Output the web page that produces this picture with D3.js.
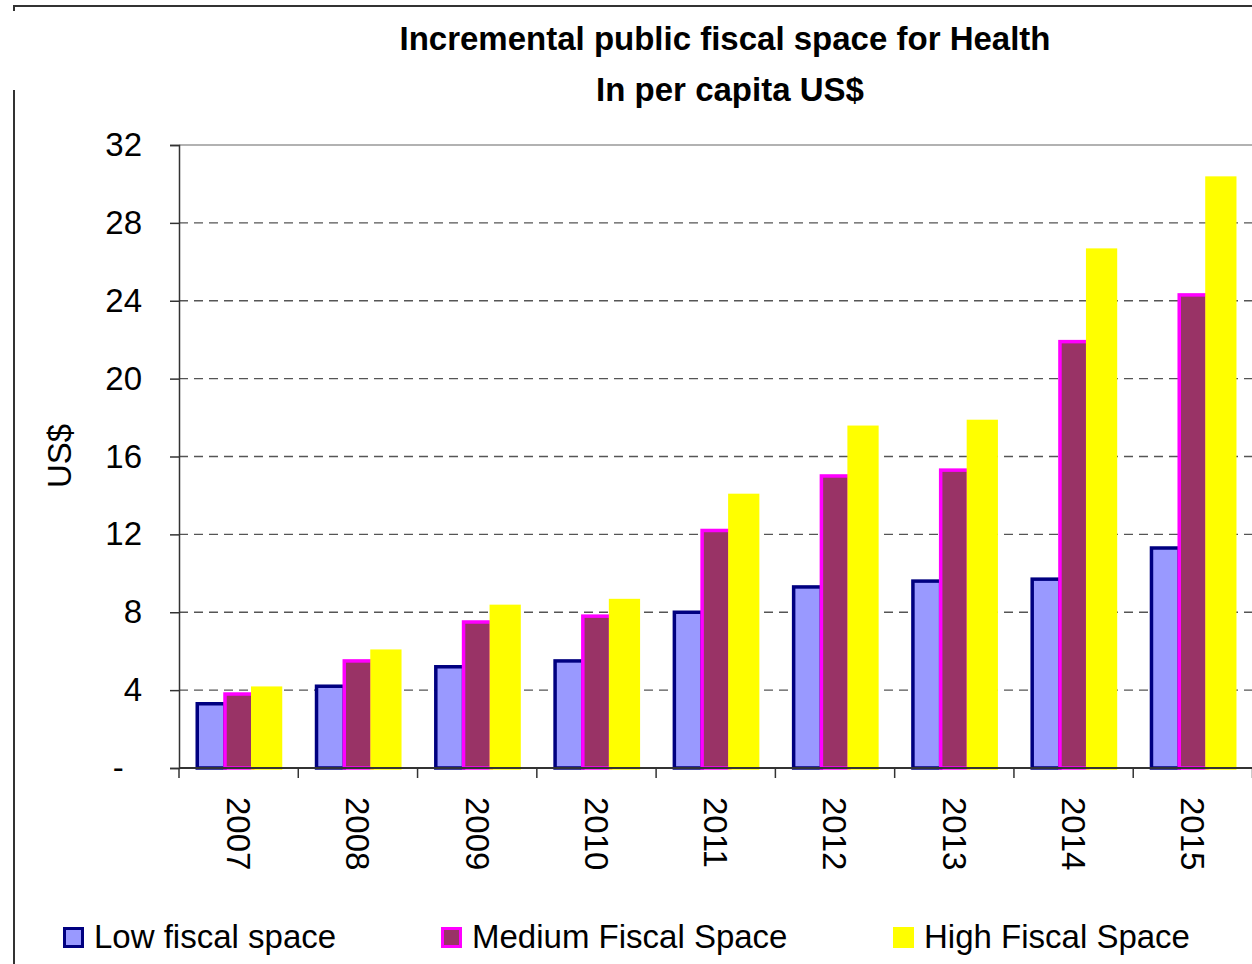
<!DOCTYPE html>
<html>
<head>
<meta charset="utf-8">
<script src="https://cdn.jsdelivr.net/npm/d3@7"></script>
<style>
  html, body { margin: 0; padding: 0; background: #fff; }
  svg { display: block; font-family: "Liberation Sans", Arial, sans-serif; }
</style>
</head>
<body>
<svg id="chart" width="1252" height="964"></svg>
<script>
// ---- data ----
const years = ["2007","2008","2009","2010","2011","2012","2013","2014","2015"];
const seriesNames = ["Low fiscal space","Medium Fiscal Space","High Fiscal Space"];
const lowValues    = [3.3, 4.2, 5.2, 5.5, 8.0, 9.3, 9.6, 9.7, 11.3];
const mediumValues = [3.8, 5.5, 7.5, 7.8, 12.2, 15.0, 15.3, 21.9, 24.3];
const highValues   = [4.1, 6.0, 8.3, 8.6, 14.0, 17.5, 17.8, 26.6, 30.3];
const yTickValues  = [0, 4, 8, 12, 16, 20, 24, 28, 32];
const yTickLabels  = ["-\u00a0\u00a0", "4", "8", "12", "16", "20", "24", "28", "32"];
const titleLines   = ["Incremental public fiscal space for Health", "In per capita US$"];
const yAxisTitle   = "US$";

const seriesValues = [lowValues, mediumValues, highValues];
const fills   = ["#9999FF", "#993366", "#FFFF00"];
const strokes = ["#000080", "#FF00FF", "#FFFF00"];

const svg = d3.select("#chart");

// frame
svg.append("path")
  .attr("d", "M14,11 V6 H1252")
  .attr("fill", "none").attr("stroke", "#333").attr("stroke-width", 2);
svg.append("line")
  .attr("x1", 14).attr("x2", 14).attr("y1", 90).attr("y2", 964)
  .attr("stroke", "#333").attr("stroke-width", 2);

// scales
const plotLeft = 179, plotRight = 1252.5, plotTop = 145, plotBottom = 768;
const x = d3.scaleBand().domain(years).range([plotLeft, plotRight]).padding(0);
const xs = d3.scaleBand().domain(seriesNames)
  .range([x.bandwidth() * 0.153, x.bandwidth() * 0.851]).padding(0);
const y = d3.scaleLinear().domain([0, 32]).range([plotBottom, plotTop]);

// gridlines
svg.append("g").selectAll("line")
  .data(yTickValues.filter(v => v > 0))
  .join("line")
  .attr("x1", plotLeft).attr("x2", plotRight)
  .attr("y1", d => y(d)).attr("y2", d => y(d))
  .attr("stroke", d => d === 32 ? "#999" : "#555")
  .attr("stroke-width", 1.3)
  .attr("stroke-dasharray", d => d === 32 ? null : "9,6");

// bars
seriesNames.forEach((name, si) => {
  svg.append("g").selectAll("rect")
    .data(years.map((yr, i) => ({ yr, v: seriesValues[si][i] })))
    .join("rect")
    .attr("x", d => x(d.yr) + xs(name))
    .attr("width", xs.bandwidth())
    .attr("y", d => y(d.v))
    .attr("height", d => y(0) - y(d.v))
    .attr("fill", fills[si])
    .attr("stroke", strokes[si])
    .attr("stroke-width", 3.5);
});

// y axis
const yAxis = d3.axisLeft(y)
  .tickValues(yTickValues)
  .tickSize(9)
  .tickPadding(28)
  .tickFormat((d, i) => yTickLabels[i]);
const gy = svg.append("g").attr("transform", `translate(${plotLeft},0)`).call(yAxis);
gy.select(".domain").attr("stroke", "#333").attr("stroke-width", 1.5);
gy.selectAll(".tick line").attr("stroke", "#333").attr("stroke-width", 1.5);
gy.selectAll(".tick text").attr("font-size", 33).attr("fill", "#000")
  .attr("font-family", "'Liberation Sans', Arial, sans-serif");

// x axis
const xAxis = d3.axisBottom(x).tickSize(0).tickFormat(d => d);
const gx = svg.append("g").attr("transform", `translate(0,${plotBottom})`).call(xAxis);
gx.select(".domain").attr("stroke", "#333").attr("stroke-width", 2)
  .attr("d", `M${plotLeft},0H${plotRight}`);
gx.selectAll(".tick text")
  .attr("font-size", 33).attr("fill", "#000")
  .attr("font-family", "'Liberation Sans', Arial, sans-serif")
  .attr("text-anchor", "start")
  .attr("transform", "translate(0,29) rotate(90)")
  .attr("x", 0).attr("y", 0).attr("dy", "0.35em");
// category boundary ticks
svg.append("g").selectAll("line")
  .data(years.map(yr => x(yr)).concat([plotRight]))
  .join("line")
  .attr("x1", d => d).attr("x2", d => d)
  .attr("y1", plotBottom).attr("y2", plotBottom + 10)
  .attr("stroke", "#333").attr("stroke-width", 1.5);

// titles
const titleX = [725, 730];
svg.append("g").selectAll("text")
  .data(titleLines)
  .join("text")
  .attr("x", (d, i) => titleX[i])
  .attr("y", (d, i) => 50 + i * 51)
  .attr("text-anchor", "middle")
  .attr("font-size", 33).attr("font-weight", "bold")
  .text(d => d);

svg.append("text")
  .attr("transform", "translate(71,456) rotate(-90)")
  .attr("text-anchor", "middle")
  .attr("font-size", 33)
  .text(yAxisTitle);

// legend
const legendX = [63, 441, 893];
const lg = svg.append("g").selectAll("g")
  .data(seriesNames)
  .join("g")
  .attr("transform", (d, i) => `translate(${legendX[i]},927)`);
lg.append("rect")
  .attr("x", 1.5).attr("y", 1.5).attr("width", 18).attr("height", 18)
  .attr("fill", (d, i) => fills[i])
  .attr("stroke", (d, i) => strokes[i])
  .attr("stroke-width", 3);
lg.append("text")
  .attr("x", 31).attr("y", 21)
  .attr("font-size", 33)
  .text(d => d);
</script>
</body>
</html>
